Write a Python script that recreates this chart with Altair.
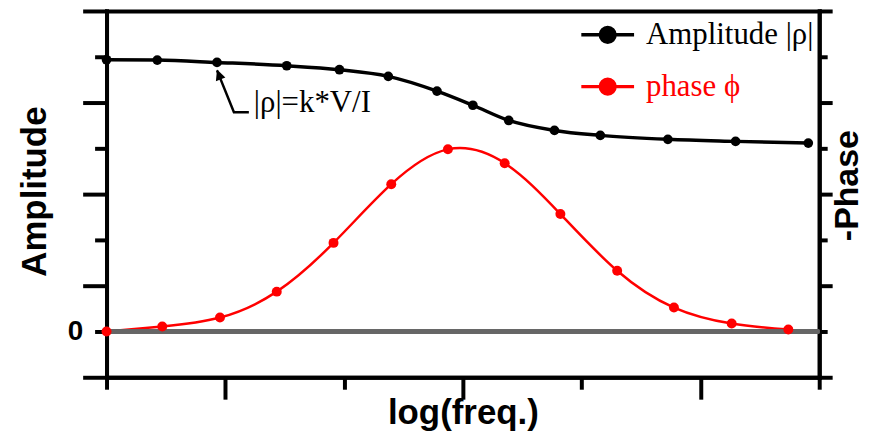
import altair as alt
import pandas as pd

# ---- data ----
amp_x = [0.0, 0.427, 0.930, 1.517, 1.961, 2.372, 2.782, 3.084, 3.386, 3.771, 4.157, 4.726, 5.296, 5.908]
amp_y = [5.935, 5.928, 5.876, 5.804, 5.717, 5.572, 5.250, 4.941, 4.609, 4.391, 4.283, 4.196, 4.152, 4.115]
phase_x = [0.0, 0.469, 0.955, 1.433, 1.911, 2.397, 2.874, 3.352, 3.821, 4.299, 4.777, 5.263, 5.740]
phase_y = [0.0, 0.109, 0.304, 0.870, 1.935, 3.217, 3.978, 3.674, 2.565, 1.326, 0.522, 0.174, 0.043]
series_names = ["Amplitude |ρ|", "phase ϕ"]
series_colors = ["#000000", "#ff0000"]
annotation_text = "|ρ|=k*V/I"
annotated_index = 2
x_title = "log(freq.)"
y_title_left = "Amplitude"
y_title_right = "-Phase"
x_domain = [0, 6]
y_domain = [-1, 7]
x_major = [1, 3, 5]
x_minor = [0, 2, 4, 6]
y_major = [-1, 1, 3, 5, 7]
y_minor = [0, 2, 4, 6]

amp = pd.DataFrame({"x": amp_x, "y": amp_y, "series": series_names[0]})
ph = pd.DataFrame({"x": phase_x, "y": phase_y, "series": series_names[1]})
ann = amp.iloc[[annotated_index]].reset_index(drop=True)

xs = alt.Scale(domain=x_domain, nice=False, zero=False)
ys = alt.Scale(domain=y_domain, nice=False, zero=False)
cs = alt.Scale(domain=series_names, range=series_colors)

ax = dict(domainColor="black", domainWidth=4, domainCap="square",
          tickColor="black", tickWidth=4, grid=False)
title_style = dict(titleFont="Liberation Sans", titleFontWeight="bold",
                   titleColor="black", titleBaseline="alphabetic",
                   titleAlign="center")

legend = alt.Legend(
    title=None, orient="none", legendX=475, legendY=-4.5, padding=0,
    symbolType="M-1,0L1,0M0.28,0A0.28,0.28,0,1,1,-0.28,0A0.28,0.28,0,1,1,0.28,0Z",
    symbolSize=2809, symbolStrokeWidth=3.5,
    symbolFillColor={"expr": "datum.index == 1 ? '#ff0000' : '#000000'"},
    labelColor={"expr": "datum.index == 1 ? '#ff0000' : '#000000'"},
    labelFont="Liberation Serif", labelFontSize=31, labelOffset=10,
    labelLimit=400, rowPadding=8,
)

x_bottom_major = alt.Axis(orient="bottom", values=x_major, tickSize=22, labels=False,
                          title=x_title, titleX=358, titleY=46, titleFontSize=35,
                          **title_style, **ax)
x_bottom_minor = alt.Axis(orient="bottom", values=x_minor, tickSize=12, labels=False,
                          title=None, **ax)
x_top = alt.Axis(orient="top", ticks=False, labels=False, title=None, **ax)

y_left_major = alt.Axis(orient="left", values=y_major, tickSize=24, labels=False,
                        title=y_title_left, titleAngle=270, titleX=-61, titleY=181,
                        titleFontSize=35, **title_style, **ax)
y_left_minor = alt.Axis(orient="left", values=y_minor, tickSize=12,
                        labelExpr="datum.value == 0 ? '0' : ''",
                        labelFont="Liberation Sans", labelFontWeight="bold",
                        labelFontSize=28, labelColor="black", labelPadding=12,
                        labelBaseline="middle", title=None, **ax)
y_right_major = alt.Axis(orient="right", values=y_major, tickSize=13, labels=False,
                         title=y_title_right, titleAngle=270, titleX=38, titleY=175,
                         titleFontSize=34, **title_style, **ax)
y_right_minor = alt.Axis(orient="right", values=y_minor, tickSize=8, labels=False,
                         title=None, **ax)

red_line = alt.Chart(ph).mark_line(strokeWidth=2.5, interpolate="natural").encode(
    x=alt.X("x:Q", scale=xs, axis=x_top),
    y=alt.Y("y:Q", scale=ys, axis=y_right_major),
    color=alt.Color("series:N", scale=cs, legend=legend),
)
zero_rule = alt.Chart(ph).mark_rule(color="#666666", strokeWidth=3.5).encode(
    y=alt.YDatum(0, axis=None),
)
black_line = alt.Chart(amp).mark_line(strokeWidth=3.5, interpolate="monotone").encode(
    x=alt.X("x:Q", scale=xs, axis=x_bottom_major),
    y=alt.Y("y:Q", scale=ys, axis=y_left_major),
    color=alt.Color("series:N", scale=cs, legend=legend),
)
red_pts = alt.Chart(ph).mark_circle(size=100, color="#ff0000", opacity=1).encode(
    x=alt.X("x:Q", scale=xs, axis=None),
    y=alt.Y("y:Q", scale=ys, axis=y_right_minor),
)
black_pts = alt.Chart(amp).mark_circle(size=95, color="#000000", opacity=1).encode(
    x=alt.X("x:Q", scale=xs, axis=x_bottom_minor),
    y=alt.Y("y:Q", scale=ys, axis=y_left_minor),
)
arrow_line = alt.Chart(ann).mark_point(
    shape="M0,8L17,50L32,50", size=4, filled=False, stroke="black",
    strokeWidth=2.5, opacity=1,
).encode(
    x=alt.X("x:Q", scale=xs, axis=None),
    y=alt.Y("y:Q", scale=ys, axis=None),
)
arrow_head = alt.Chart(ann).mark_point(
    shape="M0,7L8.4,15.1L-1.1,18.9Z", size=4, filled=True, color="black",
    opacity=1,
).encode(
    x=alt.X("x:Q", scale=xs, axis=None),
    y=alt.Y("y:Q", scale=ys, axis=None),
)
ann_text = alt.Chart(ann).mark_text(
    text=annotation_text, align="left", baseline="middle", dx=37, dy=41,
    font="Liberation Serif", fontSize=31, color="black",
).encode(
    x=alt.X("x:Q", scale=xs, axis=None),
    y=alt.Y("y:Q", scale=ys, axis=None),
)

chart = alt.layer(
    red_line, zero_rule, black_line, red_pts, black_pts, arrow_line, arrow_head, ann_text
).resolve_axis(
    x="independent", y="independent"
).properties(
    width=716, height=368,
    autosize=alt.AutoSizeParams(type="none"),
    padding={"left": 99, "top": 2, "right": 46, "bottom": 55},
    background="white",
).configure_view(stroke="transparent")

chart.save("out.html", embed_options={"renderer": "svg", "actions": False})
